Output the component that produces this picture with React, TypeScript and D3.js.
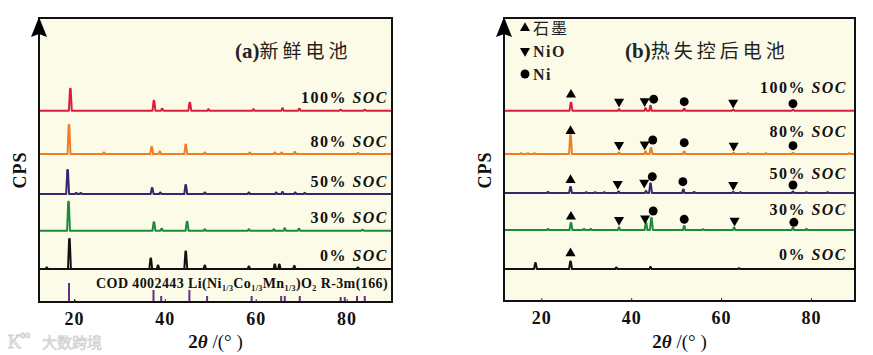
import React, { useEffect, useRef } from "react";
import * as d3 from "d3";

// ---------- data (2θ in degrees, intensity in arbitrary CPS units) ----------
const socLabels = ["100%", "80%", "50%", "30%", "0%"];
const xTicks = [20, 40, 60, 80];

// (a) fresh cells: peaks [2θ, intensity]
const fresh100 = [[19.2, 22], [37.6, 10], [39.4, 2], [45.5, 8], [49.6, 1.5], [59.5, 1.5], [65.9, 2.5], [69.6, 2], [78.7, 1], [84, 1]];
const fresh80 = [[18.9, 29], [26.6, 1.5], [37.1, 7], [38.9, 2.5], [44.6, 9.5], [48.8, 1.5], [58.7, 1.5], [64.2, 1.5], [65.7, 1.5], [68.6, 2], [82.5, 1]];
const fresh50 = [[18.6, 24], [20.5, 1], [21.5, 1], [37.2, 6], [39, 1.5], [44.6, 9], [48.8, 1.5], [58.5, 1.5], [64.5, 1.5], [65.9, 2], [68.7, 1.5], [70.8, 1]];
const fresh30 = [[18.8, 29], [37.6, 8.5], [39.3, 2], [44.9, 9], [48.8, 1.5], [58.5, 1.5], [64, 1.5], [66.4, 2.5], [69.5, 2], [83.5, 1]];
const fresh0 = [[14, 1.5], [19, 30], [36.9, 10.5], [38.5, 3.5], [44.6, 17.5], [48.8, 3.5], [58.5, 2.5], [64.2, 4.5], [65.2, 4.5], [68.5, 3], [82.5, 1.5]];
const freshOffsets = [191.3, 148, 108, 71.3, 33];

// COD 4002443 reference sticks [2θ, intensity]
const codSticks = [[18.9, 19], [20.2, 2], [37.5, 12], [39.2, 6], [45.4, 12], [49.3, 6], [59.1, 6], [65.6, 6], [66.4, 6], [69.7, 6], [78.7, 5], [79.6, 5], [82.3, 6], [84, 6]];

// (b) after thermal runaway: peaks [2θ, intensity]
const tr100 = [[26.6, 8], [37.3, 1.5], [43.2, 2.5], [44.3, 5], [51.8, 2], [62.7, 1], [76, 1]];
const tr80 = [[15.5, 0.8], [17, 0.8], [18.5, 0.8], [26.5, 19], [37.3, 1.5], [43.2, 2.5], [44.4, 6], [51.8, 2.5], [62.8, 1], [66, 0.7], [70, 0.7], [76, 1], [88.5, 0.7]];
const tr50 = [[21.5, 1], [26.5, 6], [30, 0.8], [32, 0.8], [34, 0.8], [37.2, 1.5], [43.3, 2], [44.3, 9.5], [51.6, 3.5], [54, 1], [62.7, 1], [64.3, 0.8], [76, 1.5], [79, 0.8], [83.7, 0.8]];
const tr30 = [[21.5, 1], [29.5, 1], [31, 1], [26.6, 7], [37.3, 2.5], [43.3, 7], [44.5, 12], [51.8, 4], [56, 0.8], [62.9, 2.5], [76, 2.5], [79, 1]];
const tr0 = [[18.7, 6], [26.5, 7.5], [36.7, 1.5], [44.3, 2], [64, 0.8]];
const trOffsets = [190.3, 147, 108, 71, 32];

// phase markers [type, 2θ, height above trace]; g = 石墨, o = NiO, n = Ni
const mk100 = [["g", 26.6, 16], ["o", 37.3, 9], ["o", 43.0, 9.5], ["n", 45.0, 11.5], ["n", 51.8, 9], ["o", 62.7, 8], ["n", 76, 7]];
const mk80 = [["g", 26.5, 23], ["o", 37.3, 9], ["o", 43.0, 9.5], ["n", 44.8, 14], ["n", 51.8, 11.3], ["o", 62.8, 8.3], ["n", 76, 8.3]];
const mk50 = [["g", 26.5, 13], ["o", 37.0, 9], ["o", 42.9, 10.3], ["n", 44.7, 16.3], ["n", 51.5, 11.3], ["o", 62.7, 8], ["n", 76, 8]];
const mk30 = [["g", 26.6, 13.3], ["o", 37.3, 10], ["o", 43.1, 11.7], ["n", 44.9, 19], ["n", 51.8, 10.7], ["o", 63, 9.3], ["n", 76.2, 7.7]];
const mk0 = [["g", 26.5, 15.7]];

const legendItems = [["g", "石墨"], ["o", "NiO"], ["n", "Ni"]];

// ---------- styles / layout ----------
const colors = ["#db1d3d", "#ef7d26", "#36286f", "#1e8b3b", "#111111"];
const cream = "#fcfbe8";
const serif = "'Liberation Serif', 'Times New Roman', 'DejaVu Serif', serif";
const cjk = "'Noto Sans CJK SC', 'Noto Sans CJK JP', sans-serif";

export default function App() {
  const ref = useRef<SVGSVGElement>(null);

  useEffect(() => {
    const svg = d3.select(ref.current);
    svg.selectAll("*").remove();

    const spikePoints = (peaks: number[][], dom: number[]) => {
      const pts: [number, number][] = [[dom[0], 0]];
      [...peaks].sort((a, b) => a[0] - b[0]).forEach(([p, h]) => {
        const w = h > 5 ? 0.32 : 0.25;
        pts.push([p - w, 0], [p - 0.07, h], [p + 0.07, h], [p + w, 0]);
      });
      pts.push([dom[1], 0]);
      return pts;
    };

    const panel = (cfg: any) => {
      const { x0, x1, y0, y1, domain, yMax, traces, offsets, labelLift, title, titleX, cpsX } = cfg;
      const g = svg.append("g");
      const x = d3.scaleLinear().domain(domain).range([x0, x1]);
      const y = d3.scaleLinear().domain([0, yMax]).range([y1, y0]);

      g.append("rect").attr("x", x0).attr("y", y0).attr("width", x1 - x0).attr("height", y1 - y0).attr("fill", cream);

      const clip = `clip-${x0}`;
      svg.append("defs").append("clipPath").attr("id", clip).append("rect")
        .attr("x", x0).attr("y", y0).attr("width", x1 - x0).attr("height", y1 - y0);

      const plot = g.append("g").attr("clip-path", `url(#${clip})`);
      traces.forEach((peaks: number[][], i: number) => {
        const off = offsets[i];
        const line = d3.line<[number, number]>().x(d => x(d[0])).y(d => y(d[1] + off));
        plot.append("path").attr("d", line(spikePoints(peaks, domain)))
          .attr("fill", "none").attr("stroke", colors[i]).attr("stroke-width", 2).attr("stroke-linejoin", "round");
        const t = g.append("text").attr("x", x1 - cfg.labelInset).attr("y", y(off) - labelLift[i])
          .attr("text-anchor", "end").attr("font-family", serif).attr("font-weight", "bold")
          .attr("font-size", 16).attr("letter-spacing", 1.5).attr("fill", "#111");
        t.append("tspan").text(socLabels[i] + " ");
        t.append("tspan").attr("font-style", "italic").text("SOC");
      });

      if (cfg.extra) cfg.extra(g, plot, x, y);

      // frame
      g.append("rect").attr("x", x0).attr("y", y0).attr("width", x1 - x0).attr("height", y1 - y0)
        .attr("fill", "none").attr("stroke", "#111").attr("stroke-width", 2);

      // y arrow
      g.append("path").attr("d", `M${x0},${y0 - 1} L${x0 + 8},${y0 + 19} L${x0},${y0 + 16} L${x0 - 8},${y0 + 19} Z`).attr("fill", "#000");

      // x axis
      const ax = d3.axisBottom(x).tickValues(xTicks).tickSize(-3).tickPadding(10).tickFormat(d3.format("d"));
      const axg = g.append("g").attr("transform", `translate(0,${y1})`).call(ax);
      axg.select(".domain").remove();
      axg.selectAll("line").attr("stroke", "#333");
      axg.selectAll("text").attr("font-family", serif).attr("font-weight", "bold").attr("font-size", 18)
        .attr("fill", "#111").attr("letter-spacing", 1);

      // x title
      const xt = g.append("text").attr("x", (x0 + x1) / 2).attr("y", 348).attr("text-anchor", "middle")
        .attr("font-family", serif).attr("font-size", 19).attr("font-weight", "bold").attr("fill", "#111");
      xt.append("tspan").text("2");
      xt.append("tspan").attr("font-style", "italic").text("θ");
      xt.append("tspan").attr("font-weight", "normal").text(" /(°  )");

      // y title
      g.append("text").attr("transform", `translate(${cpsX},170) rotate(-90)`).attr("text-anchor", "middle")
        .attr("font-family", serif).attr("font-weight", "bold").attr("font-size", 18).attr("letter-spacing", 1)
        .attr("fill", "#111").text("CPS");

      // panel title
      const tt = g.append("text").attr("x", titleX).attr("y", 58).attr("fill", "#222");
      tt.append("tspan").attr("font-family", serif).attr("font-weight", "bold").attr("font-size", 21).text(title[0]);
      tt.append("tspan").attr("font-family", cjk).attr("font-size", 19).attr("letter-spacing", 4).text(title[1]);
      return { x, y };
    };

    // ---- (a) ----
    panel({
      x0: 39, x1: 392, y0: 18, y1: 302, domain: [12.3, 90], yMax: 284,
      traces: [fresh100, fresh80, fresh50, fresh30, fresh0], offsets: freshOffsets,
      labelLift: [7.5, 7.5, 7.5, 7.5, 8.3], labelInset: 4,
      title: ["(a)", "新鲜电池"], titleX: 235, cpsX: 26,
      extra: (g: any, plot: any, x: any, y: any) => {
        // separator line
        g.append("line").attr("x1", x.range()[0]).attr("x2", x.range()[1]).attr("y1", y(freshOffsets[4])).attr("y2", y(freshOffsets[4]))
          .attr("stroke", "#111").attr("stroke-width", 2);
        plot.selectAll("line.stick").data(codSticks).join("line").attr("class", "stick")
          .attr("x1", (d: number[]) => x(d[0])).attr("x2", (d: number[]) => x(d[0]))
          .attr("y1", y(0)).attr("y2", (d: number[]) => y(d[1]))
          .attr("stroke", "#6a2b8f").attr("stroke-width", 2);
        const t = g.append("text").attr("x", 388).attr("y", 288).attr("text-anchor", "end")
          .attr("font-family", serif).attr("font-weight", "bold").attr("font-size", 14).attr("letter-spacing", 0.4).attr("fill", "#111");
        const parts: [string, boolean][] = [["COD 4002443 Li(Ni", false], ["1/3", true], ["Co", false], ["1/3", true], ["Mn", false], ["1/3", true], [")O", false], ["2", true], [" R-3m(166)", false]];
        parts.forEach(([s, sub], i) => {
          const ts = t.append("tspan").text(s);
          if (sub) ts.attr("font-size", 8).attr("dy", 3);
          else ts.attr("dy", i > 0 && parts[i - 1][1] ? -3 : 0);
        });
      },
    });

    // ---- (b) ----
    panel({
      x0: 504, x1: 855, y0: 18, y1: 301, domain: [11.7, 89.8], yMax: 283,
      traces: [tr100, tr80, tr50, tr30, tr0], offsets: trOffsets,
      labelLift: [17.4, 17.3, 14, 15, 8.6], labelInset: 8,
      title: ["(b)", "热失控后电池"], titleX: 625, cpsX: 491,
      extra: (g: any, _plot: any, x: any, y: any) => {
        const sym = (type: string) =>
          type === "n" ? d3.symbol().type(d3.symbolCircle).size(62)() : d3.symbol().type(d3.symbolTriangle).size(44)();
        const rot = (type: string) => (type === "o" ? 180 : 0);
        [mk100, mk80, mk50, mk30, mk0].forEach((mks, i) => {
          g.selectAll(null).data(mks).join("path")
            .attr("d", (d: any) => sym(d[0]))
            .attr("transform", (d: any) => `translate(${x(d[1])},${y(trOffsets[i] + d[2])}) rotate(${rot(d[0])})`)
            .attr("fill", "#000");
        });
        legendItems.forEach(([type, label], i) => {
          const ly = 28 + i * 23;
          g.append("path").attr("d", sym(type)).attr("transform", `translate(525,${ly}) rotate(${rot(type)})`).attr("fill", "#000");
          g.append("text").attr("x", 533).attr("y", ly + 5.5)
            .attr("font-family", type === "g" ? cjk : serif).attr("font-weight", type === "g" ? "normal" : "bold")
            .attr("font-size", 16).attr("letter-spacing", type === "g" ? 2 : 1.5).attr("fill", "#222").text(label);
        });
      },
    });

    // watermark
    svg.append("text").attr("x", 42).attr("y", 348).attr("font-family", cjk).attr("font-size", 15)
      .attr("fill", "#e2e2e2").attr("stroke", "#cfcfcf").attr("stroke-width", 0.6).text("大数跨境");
    svg.append("text").attr("x", 8).attr("y", 348).attr("font-family", serif).attr("font-size", 18)
      .attr("fill", "none").attr("stroke", "#cfcfcf").attr("stroke-width", 1).text("K");
    svg.append("text").attr("x", 20).attr("y", 338).attr("font-family", serif).attr("font-size", 10)
      .attr("fill", "none").attr("stroke", "#cfcfcf").attr("stroke-width", 0.8).text("oo");
  }, []);

  return <svg ref={ref} width={873} height={355} style={{ position: "absolute", left: 0, top: 0, background: "#fff" }} />;
}
